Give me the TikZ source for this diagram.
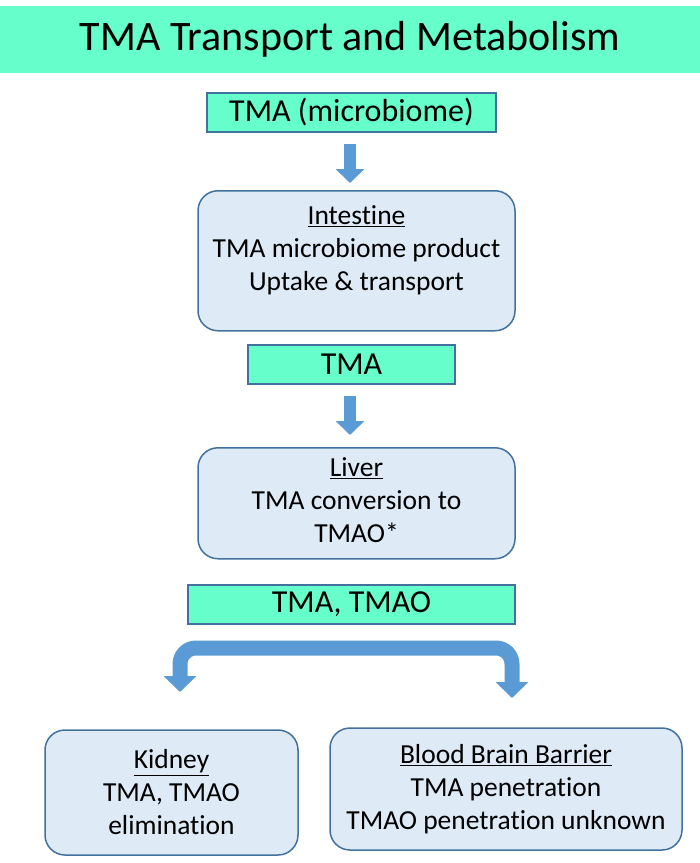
\documentclass[tikz,border=0pt]{standalone}
\usepackage{fontspec}
\setmainfont{Carlito}[Ligatures=NoCommon]
\usetikzlibrary{arrows.meta}
\definecolor{aqua}{RGB}{102,255,204}
\definecolor{edgeblue}{RGB}{65,113,156}
\definecolor{paleblue}{RGB}{222,235,247}
\definecolor{arrowblue}{RGB}{91,155,213}
\tikzset{
  x=1pt, y=-1pt,
  bodyfont/.style={font=\fontsize{27.5}{33}\selectfont},
  tag/.style={draw=edgeblue, line width=1.5pt, fill=aqua, inner sep=0pt, font=\fontsize{32}{38}\selectfont},
  organ/.style={draw=edgeblue, line width=1.5pt, fill=paleblue, rounded corners=20pt, inner sep=0pt, align=center, bodyfont},
  blockarrow/.style={draw=arrowblue, line width=12pt, -{Triangle[width=28pt,length=14pt]}},
  splitarrow/.style={draw=arrowblue, line width=15pt, rounded corners=16pt, -{Triangle[width=32pt,length=16pt]}}
}
\begin{document}
\begin{tikzpicture}
\useasboundingbox (0,0) rectangle (700,863);
\node[fill=aqua, minimum width=700pt, minimum height=67pt, inner sep=0pt, font=\fontsize{42}{50}\selectfont] (title) at (350,39) {TMA Transport and Metabolism};
\node[tag, minimum width=289pt, minimum height=39pt] (src) at (351.5,112.5) {TMA (microbiome)};
\node[organ, minimum width=317pt, minimum height=140pt, anchor=north] (intest) at (356.5,190) {};
\node[bodyfont, align=center] (intestt) at (356.5,250) {\underline{Intestine}\\TMA microbiome product\\Uptake \& transport};
\node[tag, minimum width=207pt, minimum height=39pt] (tma) at (351.5,364.5) {TMA};
\node[organ, minimum width=317pt, minimum height=111pt, anchor=north] (liver) at (356.5,447) {};
\node[bodyfont, align=center] (livert) at (356.5,500) {\underline{Liver}\\TMA conversion to\\TMAO*};
\node[tag, minimum width=327pt, minimum height=39pt] (both) at (351.5,604.5) {TMA, TMAO};
\node[organ, minimum width=253pt, minimum height=125pt] (kid) at (171.5,792.5) {\underline{Kidney}\\TMA, TMAO\\elimination};
\node[organ, minimum width=352pt, minimum height=122pt] (bbb) at (506,789) {\underline{Blood Brain Barrier}\\TMA penetration\\TMAO penetration unknown};
\draw[blockarrow, shorten <=11pt, shorten >=7pt] ([xshift=-1.5pt]src.south) -- ([xshift=-1.5pt]src.south |- intest.north);
\draw[blockarrow, shorten <=11pt, shorten >=12pt] ([xshift=-1.5pt]tma.south) -- ([xshift=-1.5pt]tma.south |- liver.north);
\coordinate (split) at (350,648);
\coordinate (kidtip) at (180,692);
\coordinate (bbbtip) at (512,698);
\draw[splitarrow] (split) -| (kidtip);
\draw[splitarrow] (split) -| (bbbtip);
\end{tikzpicture}
\end{document}
